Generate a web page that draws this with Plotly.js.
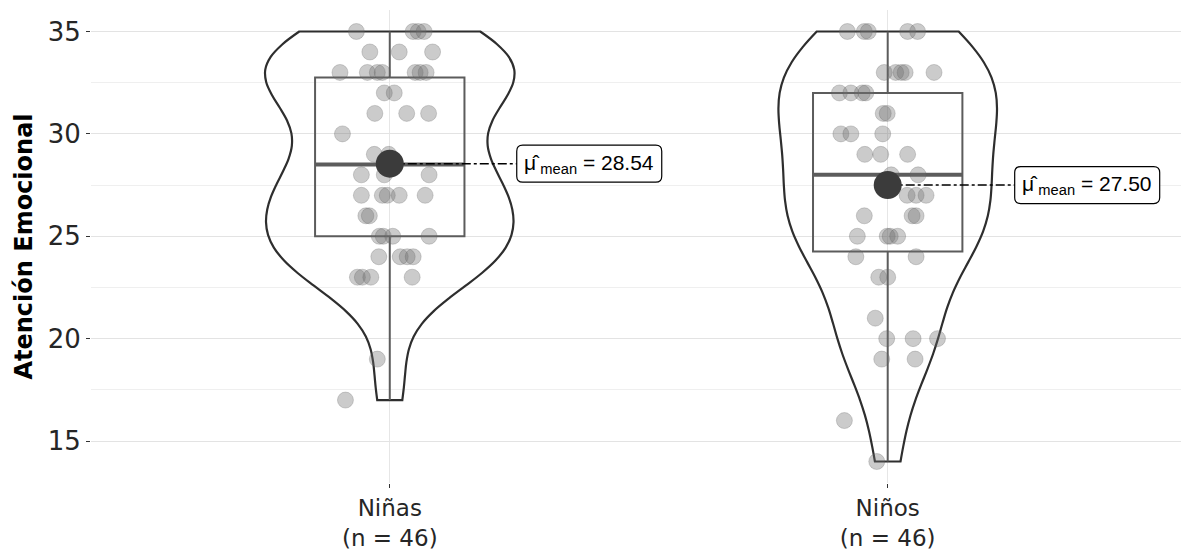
<!DOCTYPE html>
<html>
<head>
<meta charset="utf-8">
<script src="https://cdn.plot.ly/plotly-3.0.1.min.js"></script>
<style>
  html, body { margin: 0; padding: 0; background: #fff; }
  #chart { width: 1181px; height: 554px; }
</style>
</head>
<body>
<div id="chart"></div>
<script>
// ---- data ----
const groups = ["Niñas", "Niños"];
const groupN = [46, 46];

const valuesNinas = [35,35,35,35, 34,34,34, 33,33,33,33,33,33,33, 32,32, 31,31,31, 30, 29,29,
  28,28,28, 27,27,27,27,27, 26,26, 25,25,25,25, 24,24,24,24, 23,23,23,23, 19, 17];
const jitterNinas = [-0.067,0.047,0.057,0.069, -0.040,0.019,0.086,
  -0.100,-0.045,-0.025,-0.015,0.051,0.061,0.073, -0.011,0.009, -0.030,0.034,0.078, -0.095,
  -0.031,-0.002, -0.057,-0.011,0.079, -0.057,-0.015,-0.005,0.019,0.071, -0.048,-0.041,
  -0.021,-0.013,0.006,0.079, -0.022,0.021,0.035,0.047, -0.065,-0.055,-0.038,0.045, -0.025, -0.089];

const valuesNinos = [35,35,35,35,35, 33,33,33,33,33, 32,32,32,32, 31,31, 30,30,30, 29,29,29,
  28,28, 27,27,27, 26,26,26, 25,25,25,25, 24,24, 23,23, 21, 20,20,20, 19,19, 16, 14];
const jitterNinos = [-0.081,-0.047,-0.039,0.040,0.060, -0.007,0.016,0.027,0.035,0.093,
  -0.097,-0.074,-0.051,-0.044, -0.009,-0.001, -0.094,-0.074,-0.010, -0.046,-0.014,0.040,
  0.007,0.061, 0.039,0.057,0.077, -0.047,0.049,0.057, -0.061,-0.001,0.005,0.020,
  -0.064,0.057, -0.018,0.000, -0.025, -0.002,0.051,0.100, -0.012,0.055, -0.087, -0.022];

// box statistics
const boxQ1 = [25, 24.25];
const boxMedian = [28.5, 28];
const boxQ3 = [32.75, 32];
const boxLow = [17, 14];
const boxHigh = [35, 35];

const yTicks = [15, 20, 25, 30, 35];

// ---- helpers ----
function mean(a) { return a.reduce((s, v) => s + v, 0) / a.length; }
function sd(a) { const m = mean(a); return Math.sqrt(a.reduce((s, v) => s + (v - m) * (v - m), 0) / (a.length - 1)); }
function q7(a, p) { const s = a.slice().sort((x, y) => x - y); const h = (s.length - 1) * p; const lo = Math.floor(h); return s[lo] + (h - lo) * ((s[lo + 1] ?? s[lo]) - s[lo]); }
function bwNrd0(a) { const iqr = q7(a, 0.75) - q7(a, 0.25); return 0.9 * Math.min(sd(a), iqr / 1.34) * Math.pow(a.length, -0.2); }
function maxDensity(a, bw) {
  const lo = Math.min(...a), hi = Math.max(...a); let best = 0;
  for (let k = 0; k <= 511; k++) {
    const t = lo + (hi - lo) * k / 511; let d = 0;
    a.forEach(v => { const z = (t - v) / bw; d += Math.exp(-0.5 * z * z); });
    d /= (a.length * bw * Math.sqrt(2 * Math.PI));
    if (d > best) best = d;
  }
  return best;
}
function roundedRect(w, h, r) {
  const h2 = h / 2;
  return `M ${r},${-h2} L ${w - r},${-h2} Q ${w},${-h2} ${w},${-h2 + r} L ${w},${h2 - r} Q ${w},${h2} ${w - r},${h2} ` +
         `L ${r},${h2} Q 0,${h2} 0,${h2 - r} L 0,${-h2 + r} Q 0,${-h2} ${r},${-h2} Z`;
}

const allValues = [valuesNinas, valuesNinos];
const allJitter = [jitterNinas, jitterNinos];
const positions = [1, 2];
const labelOffset = 0.255;
const labelW = 145, labelH = 37;
const bws = allValues.map(bwNrd0);
const peaks = allValues.map((a, i) => maxDensity(a, bws[i]) * a.length);
const peakMax = Math.max(...peaks);

const traces = [];
const annotations = [];
const shapes = [];

allValues.forEach((vals, i) => {
  const g = positions[i];
  traces.push({
    type: 'violin', x0: g, y: vals, name: groups[i],
    width: 0.5 * peaks[i] / peakMax, scalemode: 'width', spanmode: 'hard',
    bandwidth: bws[i],
    points: false, box: { visible: false }, meanline: { visible: false },
    fillcolor: 'rgba(0,0,0,0)', line: { color: '#2e2e2e', width: 2.2 },
    hoverinfo: 'skip', showlegend: false
  });
  traces.push({
    type: 'box', x: [g], q1: [boxQ1[i]], median: [boxMedian[i]], q3: [boxQ3[i]],
    lowerfence: [boxLow[i]], upperfence: [boxHigh[i]],
    width: 0.3, whiskerwidth: 0, boxpoints: false,
    fillcolor: 'rgba(0,0,0,0)', line: { color: '#5c5c5c', width: 2 },
    hoverinfo: 'skip', showlegend: false
  });
  traces.push({
    type: 'scatter', mode: 'lines', x: [g - 0.15, g + 0.15], y: [boxMedian[i], boxMedian[i]],
    line: { color: '#5c5c5c', width: 4 }, hoverinfo: 'skip', showlegend: false
  });
  traces.push({
    type: 'scatter', mode: 'markers',
    x: vals.map((v, k) => g + allJitter[i][k]), y: vals,
    marker: { size: 16, color: 'rgba(110,110,110,0.36)', line: { width: 1, color: 'rgba(90,90,90,0.25)' } },
    hoverinfo: 'skip', showlegend: false
  });
  const m = mean(vals);
  traces.push({
    type: 'scatter', mode: 'lines', x: [g, g + labelOffset], y: [m, m],
    line: { color: '#000', width: 1.6, dash: 'dashdot' }, hoverinfo: 'skip', showlegend: false
  });
  traces.push({
    type: 'scatter', mode: 'markers', x: [g], y: [m],
    marker: { size: 28, color: '#3b3b3b', line: { width: 0 } },
    hoverinfo: 'skip', showlegend: false
  });
  shapes.push({
    type: 'path', layer: 'above', xref: 'x', yref: 'y',
    xsizemode: 'pixel', ysizemode: 'pixel', xanchor: g + labelOffset, yanchor: m,
    path: roundedRect(labelW, labelH, 6),
    fillcolor: '#fff', line: { color: '#000', width: 1.2 }
  });
  annotations.push({
    x: g + labelOffset, y: m, xref: 'x', yref: 'y', xanchor: 'center', yanchor: 'middle',
    xshift: labelW / 2, showarrow: false,
    text: '\u03BC\u0302\u2009<sub>mean</sub> = ' + m.toFixed(2),
    font: { family: 'Liberation Sans, Arial, sans-serif', size: 21, color: '#000' }
  });
});

const axisFont = 'DejaVu Sans, Liberation Sans, sans-serif';
const layout = {
  width: 1181, height: 554,
  margin: { l: 91, r: 0, t: 10, b: 71 },
  paper_bgcolor: '#fff', plot_bgcolor: '#fff',
  font: { family: axisFont, color: '#262626' },
  showlegend: false,
  xaxis: {
    range: [0.4, 2.589],
    tickvals: positions,
    ticktext: groups.map((g, i) => g + '<br>(n = ' + groupN[i] + ')'),
    ticks: 'outside', ticklen: 4, tickcolor: '#333', tickwidth: 1,
    tickfont: { family: axisFont, size: 23, color: '#262626' },
    showgrid: true, gridcolor: '#e6e6e6', gridwidth: 1,
    zeroline: false, showline: false
  },
  yaxis: {
    range: [12.95, 36.05],
    tickvals: yTicks,
    ticks: 'outside', ticklen: 4, tickcolor: '#333', tickwidth: 1,
    tickfont: { family: axisFont, size: 26, color: '#262626' },
    showgrid: true, gridcolor: '#e3e3e3', gridwidth: 1,
    minor: { dtick: 2.5, showgrid: true, gridcolor: '#efefef', gridwidth: 1 },
    zeroline: false, showline: false,
    title: { text: '<b>Atención Emocional</b>', font: { family: axisFont, size: 24, color: '#000' }, standoff: 8 }
  },
  shapes: shapes,
  annotations: annotations
};

Plotly.newPlot('chart', traces, layout, { staticPlot: true, displayModeBar: false });
</script>
</body>
</html>
